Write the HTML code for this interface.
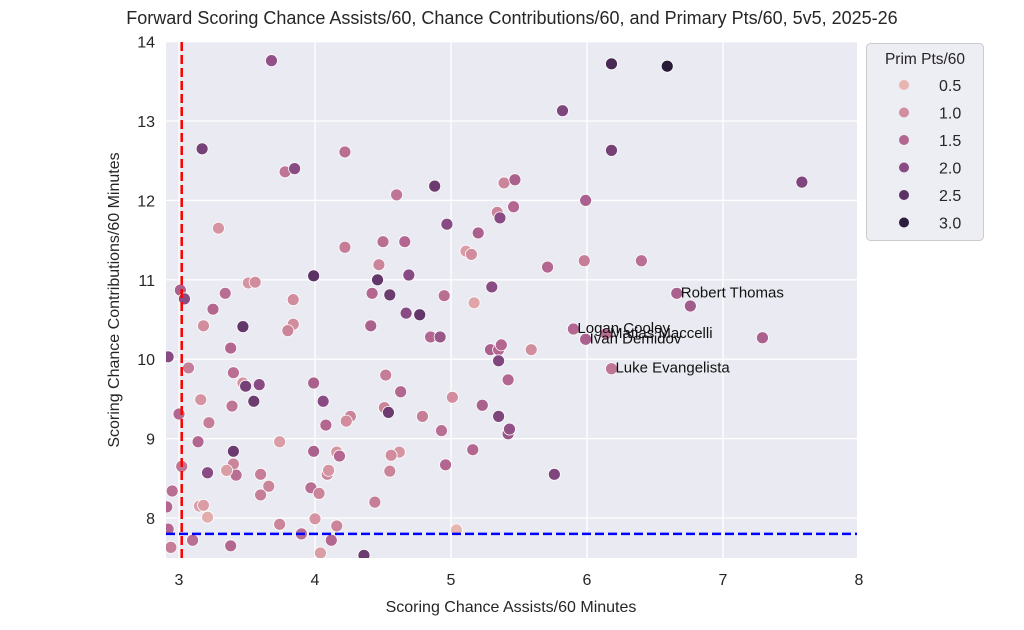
<!DOCTYPE html>
<html><head><meta charset="utf-8"><style>
html,body{margin:0;padding:0;background:#fff;}
svg{display:block;font-family:"Liberation Sans",Arial,sans-serif;}
</style></head><body>
<svg id="chart" width="1024" height="630" viewBox="0 0 1024 630">
<text x="512" y="24" text-anchor="middle" font-size="18" fill="#262626">Forward Scoring Chance Assists/60, Chance Contributions/60, and Primary Pts/60, 5v5, 2025-26</text>
<rect x="166" y="42" width="691" height="516" fill="#eaeaf2"/>
<g id="grid"></g>
<g id="xticks"></g>
<g id="yticks"></g>
<g id="points"></g>
<g id="refs"></g>
<g id="labels"></g>
<text x="511" y="612" text-anchor="middle" font-size="16" fill="#262626">Scoring Chance Assists/60 Minutes</text>
<text transform="translate(119,300) rotate(-90)" text-anchor="middle" font-size="16" fill="#262626">Scoring Chance Contributions/60 Minutes</text>
<g>
<rect x="866.5" y="43.5" width="117" height="197" rx="4" fill="#eaeaf2" fill-opacity="0.85" stroke="#cccccc"/>
<text x="925" y="64" text-anchor="middle" font-size="15.5" fill="#262626">Prim Pts/60</text>
<g id="legend-items"></g>
</g>
</svg>
<script>
const xVals=[3.68,3.17,3.78,3.85,3.29,4.22,4.88,4.60,5.39,4.97,5.20,5.11,5.15,5.34,5.36,4.22,4.50,4.66,4.47,3.99,4.46,4.69,3.51,3.56,3.01,3.04,3.34,3.84,4.42,4.55,4.95,5.17,3.25,3.18,3.47,3.84,3.80,4.41,4.67,4.77,4.85,4.92,5.29,5.35,5.35,2.92,3.38,3.07,3.40,3.47,3.49,3.59,3.16,3.55,3.39,3.99,4.52,4.63,4.06,4.51,4.54,5.01,5.23,5.35,4.26,4.23,3.00,3.22,4.08,4.79,4.93,5.42,3.14,3.74,3.40,3.99,4.16,4.18,4.62,4.56,5.16,3.02,3.21,3.40,3.42,3.35,3.60,3.66,4.09,4.10,4.55,4.96,2.95,2.91,3.15,3.18,3.21,3.97,4.03,3.60,4.44,3.74,4.00,4.16,5.04,3.90,2.92,3.10,2.94,3.38,4.12,4.04,4.36,6.18,6.59,5.82,6.18,7.58,5.47,5.99,5.46,5.71,5.98,6.40,6.66,6.76,5.90,5.99,6.14,7.29,5.37,5.59,6.18,5.42,5.43,5.76,5.30];
const yVals=[13.76,12.65,12.36,12.40,11.65,12.61,12.18,12.07,12.22,11.70,11.59,11.36,11.32,11.85,11.78,11.41,11.48,11.48,11.19,11.05,11.00,11.06,10.96,10.97,10.87,10.76,10.83,10.75,10.83,10.81,10.80,10.71,10.63,10.42,10.41,10.44,10.36,10.42,10.58,10.56,10.28,10.28,10.12,10.12,9.98,10.03,10.14,9.89,9.83,9.70,9.66,9.68,9.49,9.47,9.41,9.70,9.80,9.59,9.47,9.39,9.33,9.52,9.42,9.28,9.28,9.22,9.31,9.20,9.17,9.28,9.10,9.06,8.96,8.96,8.84,8.84,8.83,8.78,8.83,8.79,8.86,8.65,8.57,8.68,8.54,8.60,8.55,8.40,8.55,8.60,8.59,8.67,8.34,8.14,8.15,8.16,8.01,8.38,8.31,8.29,8.20,7.92,7.99,7.90,7.85,7.80,7.86,7.72,7.63,7.65,7.72,7.56,7.53,13.72,13.69,13.13,12.63,12.23,12.26,12.00,11.92,11.16,11.24,11.24,10.83,10.67,10.38,10.25,10.32,10.27,10.18,10.12,9.88,9.74,9.12,8.55,10.91];
const primPts=[1.9,2.2,1.3,2.0,0.9,1.4,2.3,1.3,1.1,2.0,1.6,0.8,1.0,1.1,2.0,1.2,1.4,1.5,1.1,2.5,2.4,2.0,0.9,1.0,1.6,2.0,1.4,1.0,1.5,2.3,1.4,0.7,1.5,1.0,2.4,1.0,1.1,1.6,2.0,2.4,1.5,1.8,1.6,1.5,2.1,2.0,1.5,1.2,1.4,0.9,2.2,2.0,0.9,2.3,1.3,1.6,1.2,1.5,2.0,1.1,2.3,1.0,1.6,2.1,1.1,1.0,1.5,1.2,1.5,1.2,1.4,1.8,1.5,0.8,2.3,1.6,0.9,1.5,0.9,1.0,1.5,1.3,2.0,1.1,1.4,0.8,1.2,1.1,1.1,0.9,1.1,1.5,1.4,1.5,0.8,0.8,0.6,1.4,1.1,1.2,1.2,1.1,0.9,1.1,0.5,1.4,1.5,1.4,1.2,1.5,1.5,0.8,2.3,2.7,3.1,2.1,2.2,2.1,1.6,1.6,1.5,1.5,1.2,1.4,1.6,1.7,1.5,1.6,1.4,1.6,1.5,1.0,1.3,1.5,1.9,2.1,2.0];
const labelNames=["Robert Thomas","Logan Cooley","Ivan Demidov","Matias Maccelli","Luke Evangelista"];
const labelX=[6.66,5.90,5.99,6.14,6.18];
const labelY=[10.83,10.38,10.25,10.32,9.88];
const xTicks=[3,4,5,6,7,8];
const yTicks=[8,9,10,11,12,13,14];
const legendVals=[0.5,1.0,1.5,2.0,2.5,3.0];
const refX=3.02, refY=7.80;

const NS="http://www.w3.org/2000/svg";
const sx=v=>179+(v-3)*136;
const sy=v=>518-(v-8)*79.4;
const stops=[[0.3,[236,190,180]],[0.5,[232,181,176]],[1.0,[209,140,158]],[1.5,[179,103,144]],[2.0,[136,75,131]],[2.5,[90,50,100]],[3.0,[44,29,60]],[3.2,[35,24,50]]];
function col(v){
 if(v<=stops[0][0])return 'rgb('+stops[0][1]+')';
 for(let i=1;i<stops.length;i++){if(v<=stops[i][0]){const a=stops[i-1],b=stops[i],t=(v-a[0])/(b[0]-a[0]);return 'rgb('+a[1].map((c,k)=>Math.round(c+(b[1][k]-c)*t)).join(',')+')';}}
 return 'rgb('+stops[stops.length-1][1]+')';
}
function mk(tag,attrs,parent){const e=document.createElementNS(NS,tag);for(const k in attrs)e.setAttribute(k,attrs[k]);parent.appendChild(e);return e;}
const grid=document.getElementById('grid'),xt=document.getElementById('xticks'),yt=document.getElementById('yticks');
xTicks.forEach(t=>{
 const l=mk('line',{x1:sx(t),x2:sx(t),y1:42,y2:558,stroke:'#fff','stroke-width':1.3},grid);
 
 
 const tx=mk('text',{x:sx(t),y:585,'text-anchor':'middle','font-size':16,fill:'#262626'},xt);
 tx.textContent=t;
 
 
});
yTicks.forEach(t=>{
 const l=mk('line',{x1:166,x2:857,y1:sy(t),y2:sy(t),stroke:'#fff','stroke-width':1.3},grid);
 
 
 const tx=mk('text',{x:155,y:sy(t)+6,'text-anchor':'end','font-size':16,fill:'#262626'},yt);
 tx.textContent=t;
 
 
});
const pts=document.getElementById('points');
const clip=mk('clipPath',{id:'pc'},document.getElementById('chart'));
mk('rect',{x:166,y:42,width:691,height:516},clip);
pts.setAttribute('clip-path','url(#pc)');
xVals.forEach((x,i)=>{
 const c=mk('circle',{cx:sx(x),cy:sy(yVals[i]),r:6,fill:col(primPts[i]),stroke:'#fff','stroke-width':0.8},pts);
 
 
});
const refs=document.getElementById('refs');
const rv=mk('line',{x1:sx(refX),x2:sx(refX),y1:42,y2:558,stroke:'#ff0000','stroke-width':2.5,'stroke-dasharray':'9,4'},refs);


const rh=mk('line',{x1:166,x2:857,y1:sy(refY),y2:sy(refY),stroke:'#0000ff','stroke-width':2.5,'stroke-dasharray':'9,4'},refs);


const lg=document.getElementById('labels');
labelNames.forEach((n,i)=>{
 const t=mk('text',{x:sx(labelX[i])+4,y:sy(labelY[i])+4,'font-size':15,fill:'#111'},lg);
 t.textContent=n;
 
 
});
const li=document.getElementById('legend-items');
legendVals.forEach((v,i)=>{
 const y=85+i*27.5;
 const c=mk('circle',{cx:904,cy:y,r:5,fill:col(v)},li);
 
 
 const t=mk('text',{x:939,y:y+6,'font-size':16,fill:'#262626'},li);
 t.textContent=v.toFixed(1);
 
 
});
</script>
</body></html>
